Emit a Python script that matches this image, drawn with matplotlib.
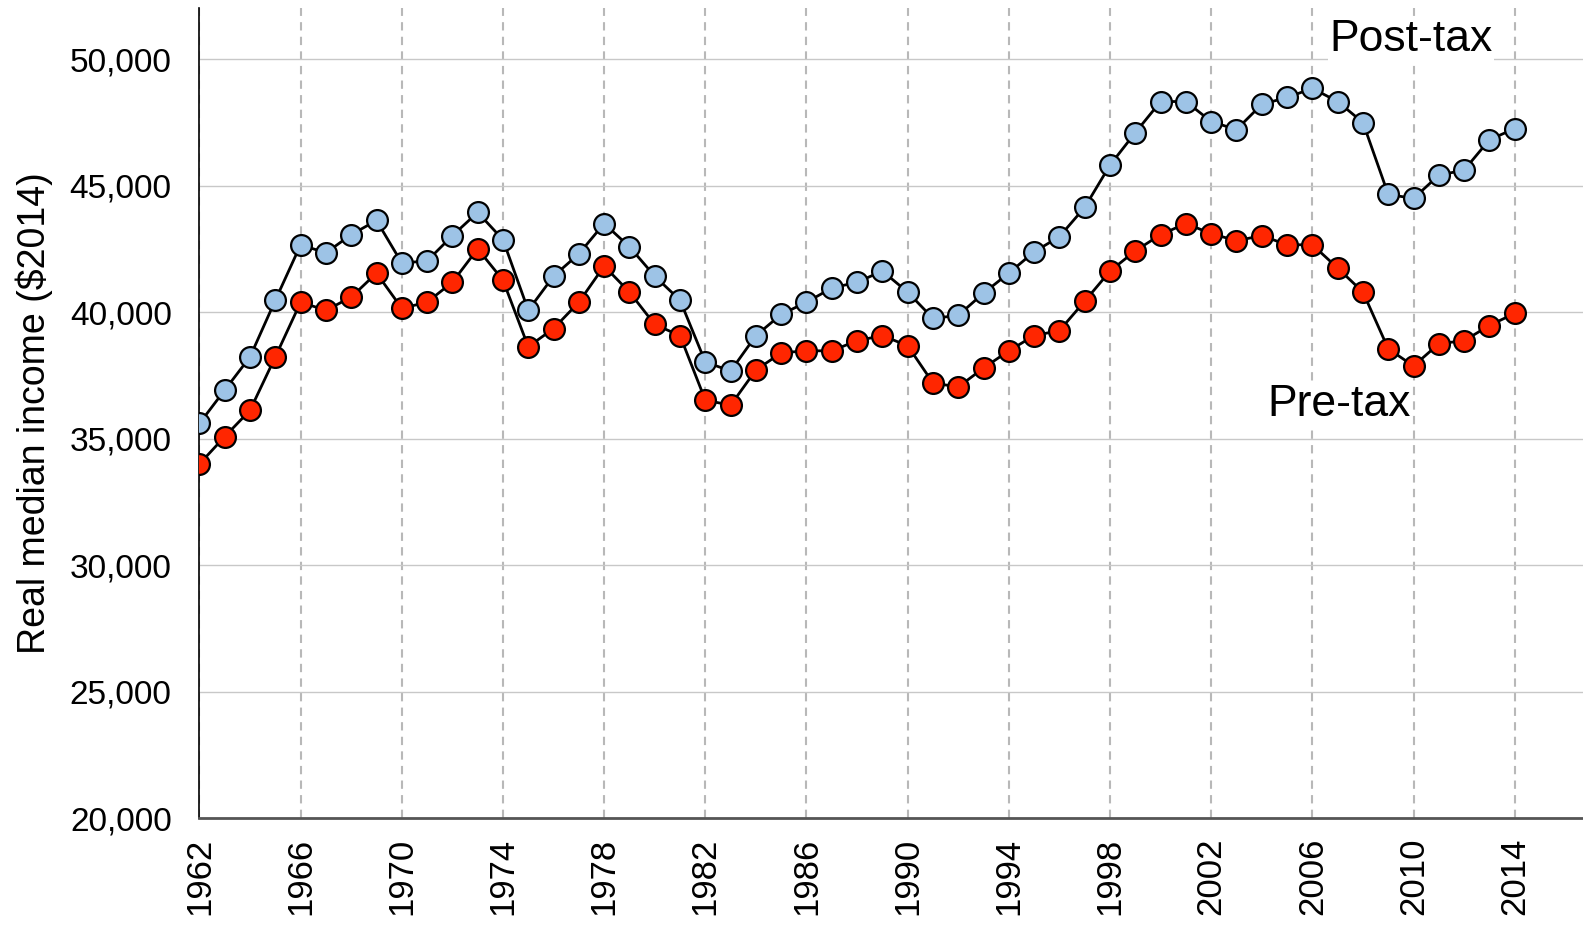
import matplotlib
matplotlib.use("Agg")
import matplotlib.pyplot as plt
from matplotlib.ticker import FuncFormatter

plt.rcParams['font.family'] = ['Liberation Sans', 'DejaVu Sans']

years = list(range(1962, 2015))

post_tax = [35600, 36920, 38230, 40470, 42660, 42340, 43060, 43620, 41940, 42020,
            43020, 43940, 42860, 40070, 41420, 42300, 43500, 42580, 41420, 40470,
            38030, 37670, 39070, 39910, 40390, 40950, 41180, 41620, 40790, 39750,
            39870, 40750, 41540, 42380, 42980, 44140, 45810, 47090, 48320, 48320,
            47530, 47210, 48210, 48480, 48840, 48320, 47490, 44650, 44490, 45410,
            45610, 46810, 47250]

pre_tax = [34000, 35080, 36120, 38230, 40390, 40070, 40590, 41540, 40150, 40390,
           41180, 42500, 41260, 38630, 39350, 40390, 41820, 40790, 39510, 39070,
           36520, 36320, 37710, 38390, 38470, 38470, 38870, 39070, 38670, 37200,
           37040, 37790, 38470, 39070, 39270, 40430, 41620, 42420, 43060, 43500,
           43100, 42820, 43020, 42660, 42660, 41740, 40790, 38550, 37870, 38750,
           38870, 39470, 39950]

x_ticks = list(range(1962, 2015, 4))
y_ticks = list(range(20000, 50001, 5000))

fig = plt.figure(figsize=(15.83, 9.33), dpi=100)
ax = fig.add_axes([0.126, 0.123, 0.874, 0.868])

ax.plot(years, post_tax, color='black', lw=2.0, marker='o', ms=15,
        mfc='#9DC3E6', mec='black', mew=1.6, zorder=3)
ax.plot(years, pre_tax, color='black', lw=2.0, marker='o', ms=15,
        mfc='#FF2600', mec='black', mew=1.6, zorder=3)

ax.set_xlim(1962, 2016.7)
ax.set_ylim(20000, 52000)
ax.set_xticks(x_ticks)
ax.set_yticks(y_ticks)
ax.yaxis.set_major_formatter(FuncFormatter(lambda v, p: f"{int(v):,}"))
ax.tick_params(axis='both', length=0)
ax.tick_params(axis='y', pad=20, labelsize=24)
ax.tick_params(axis='x', pad=14, labelrotation=90, labelsize=25)

ax.grid(axis='y', color='#c8c8c8', lw=1.0, zorder=0)
ax.grid(axis='x', color='#b8b8b8', lw=1.5, ls=(0, (4, 3)), zorder=0)
ax.set_axisbelow(True)

for s in ['top', 'right']:
    ax.spines[s].set_visible(False)
ax.spines['left'].set_color('black')
ax.spines['left'].set_linewidth(1.2)
ax.spines['bottom'].set_color('#555555')
ax.spines['bottom'].set_linewidth(2.0)

ax.set_ylabel('Real median income ($2014)', fontsize=27, labelpad=12)

ax.text(2009.9, 50760, 'Post-tax', fontsize=32, ha='center', va='center',
        bbox=dict(facecolor='white', edgecolor='none', pad=1), zorder=4)
ax.text(2007.05, 36360, 'Pre-tax', fontsize=32, ha='center', va='center',
        bbox=dict(facecolor='white', edgecolor='none', pad=1), zorder=4)

fig.savefig('out.png', dpi=100)
